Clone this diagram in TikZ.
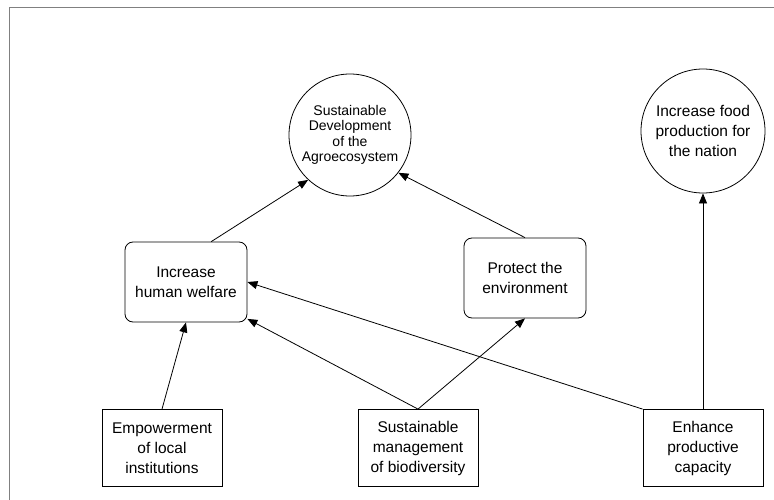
\documentclass[tikz,border=0pt]{standalone}
\usepackage{fontspec}
\setsansfont{Liberation Sans}
\usetikzlibrary{arrows.meta}

\tikzset{
  goal/.style={draw, circle, minimum size=124pt, inner sep=0pt, align=center},
  aim/.style={draw, rounded corners=8pt, minimum width=122pt, minimum height=80pt, align=center},
  means/.style={draw, minimum width=120pt, minimum height=77pt, align=center},
  link/.style={-{Triangle[length=10pt,width=8pt]}},
}

\begin{document}
\begin{tikzpicture}[x=1pt,y=-1pt, line width=0.8pt,
  font=\sffamily\fontsize{15.5}{20}\selectfont]

\useasboundingbox (0,0) rectangle (774,500);

% frame
\draw[gray, line width=0.6pt] (9,500) -- (9,7) -- (774,7);

% =========================
% goals
% =========================
\node[goal, minimum size=122pt, font=\sffamily\fontsize{14}{15.5}\selectfont] (sdev) at (350,135)
  {Sustainable\\Development\\of the\\Agroecosystem};
\node[goal] (food) at (703,131) {Increase food\\production for\\the nation};

% =========================
% aims
% =========================
\node[aim] (welfare) at (186,282) {Increase\\human welfare};
\node[aim] (protect) at (525,278) {Protect the\\environment};

% =========================
% means
% =========================
\node[means] (empower) at (162,448) {Empowerment\\of local\\institutions};
\node[means] (biodiv) at (418,448) {Sustainable\\management\\of biodiversity};
\node[means] (enhance) at (703,448) {Enhance\\productive\\capacity};

% links
\draw[link] (welfare.58) -- (sdev.227);
\draw[link] (protect.north) -- (sdev.322);
\draw[link] (enhance.north) -- (food.south);
\draw[link] (empower.north) -- (welfare.south);
\draw[link] (biodiv.north) -- (welfare.329);
\draw[link] (biodiv.north) -- (protect.south);
\draw[link] (enhance.north west) -- (welfare.east);

\end{tikzpicture}
\end{document}
